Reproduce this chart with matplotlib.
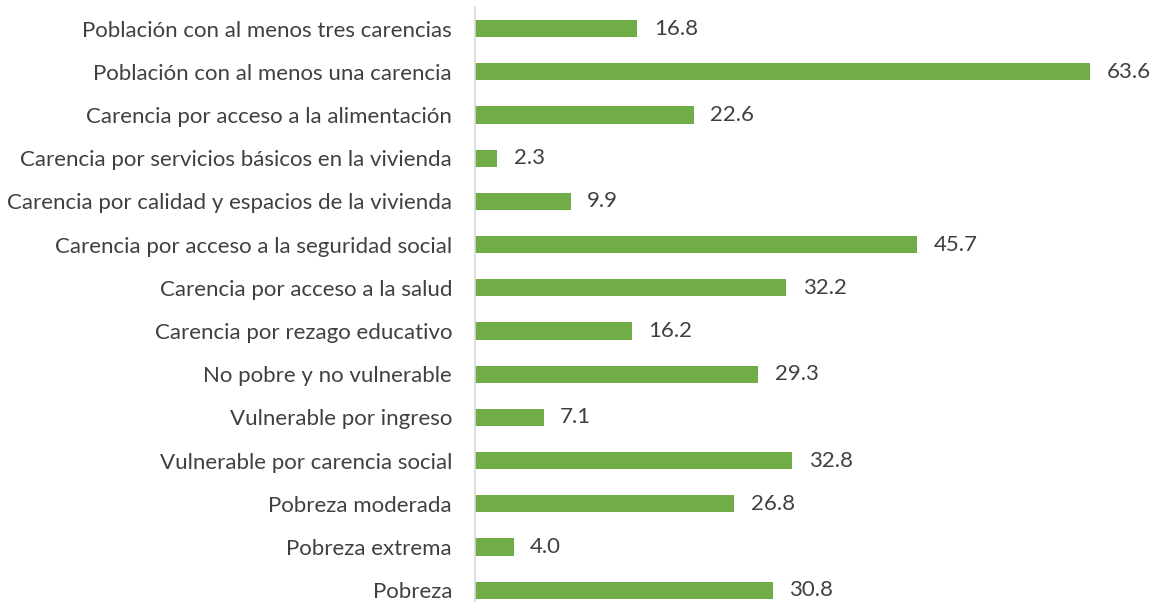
import matplotlib.pyplot as plt

# categories listed bottom to top
categories = [
    "Pobreza",
    "Pobreza extrema",
    "Pobreza moderada",
    "Vulnerable por carencia social",
    "Vulnerable por ingreso",
    "No pobre y no vulnerable",
    "Carencia por rezago educativo",
    "Carencia por acceso a la salud",
    "Carencia por acceso a la seguridad social",
    "Carencia por calidad y espacios de la vivienda",
    "Carencia por servicios básicos en la vivienda",
    "Carencia por acceso a la alimentación",
    "Población con al menos una carencia",
    "Población con al menos tres carencias",
]
values = [30.8, 4.0, 26.8, 32.8, 7.1, 29.3, 16.2, 32.2, 45.7, 9.9, 2.3, 22.6, 63.6, 16.8]

bar_color = "#70AD47"
text_color = "#404040"

plt.rcParams['font.family'] = ['Lato', 'DejaVu Sans']

W, H = 1151, 602
fig = plt.figure(figsize=(W / 100, H / 100), dpi=100)
ax = fig.add_axes([475 / W, -0.0163, 676 / W, 1.0047])

pos = list(range(len(categories)))
ax.barh(pos, values, height=0.4, color=bar_color)
for y, v in zip(pos, values):
    ax.text(v + 1.7, y, f"{v:.1f}", va="center", ha="left",
            fontsize=16, color=text_color)

ax.set_xlim(0, 69.9)
ax.set_ylim(-0.5, len(categories) - 0.5)
ax.set_yticks(pos)
ax.set_yticklabels(categories, fontsize=16, color=text_color)
ax.tick_params(axis="y", length=0, pad=16.5)
ax.set_xticks([])
for side in ["top", "right", "bottom"]:
    ax.spines[side].set_visible(False)
ax.spines["left"].set_color("#d9d9d9")
ax.spines["left"].set_linewidth(1.2)

fig.savefig("out.png", dpi=100)
